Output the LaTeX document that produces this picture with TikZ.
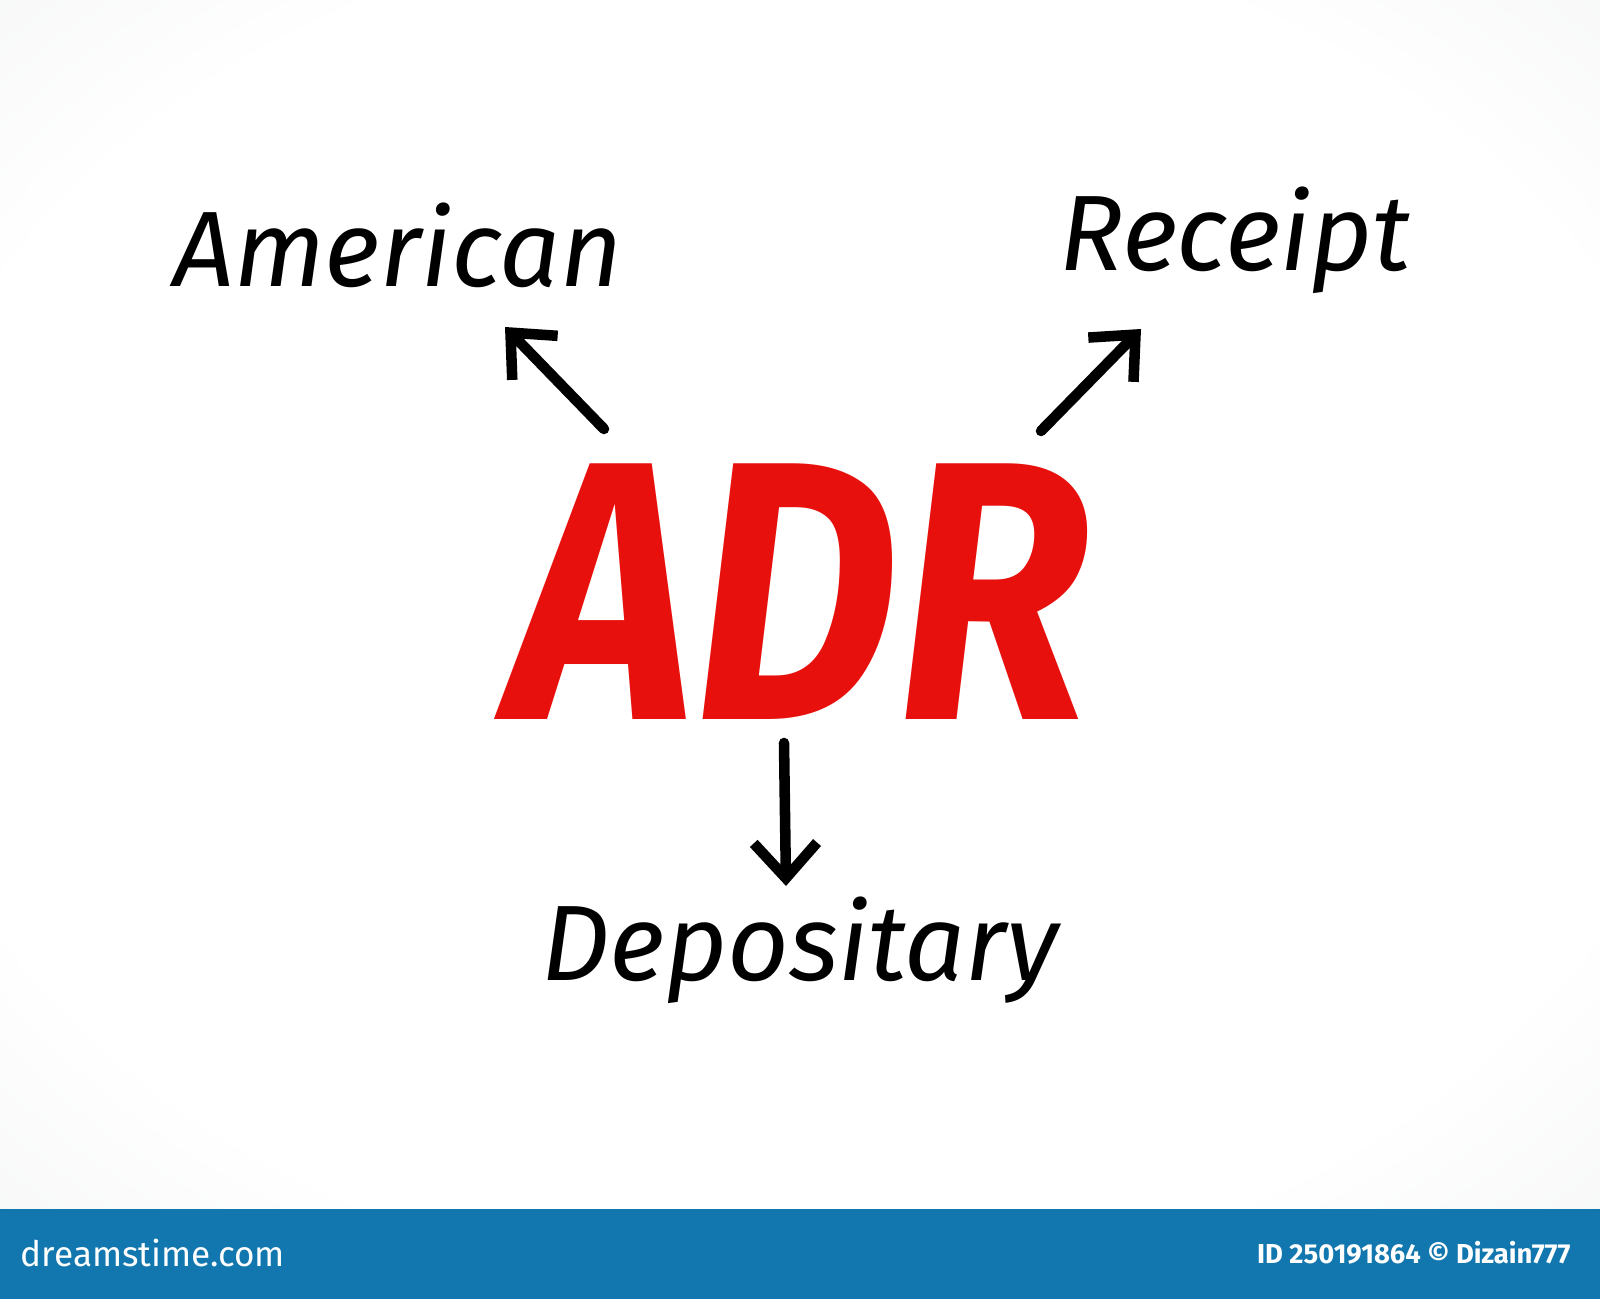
\documentclass[tikz,border=0pt]{standalone}
\usepackage{fontspec}
\setmainfont{Fira Sans}
\usetikzlibrary{arrows.meta}
\definecolor{barblue}{HTML}{1277AE}
\definecolor{adrred}{HTML}{E8100C}
\definecolor{edgegray}{HTML}{ECEDEF}
\pgfdeclareradialshading{bgshade}{\pgfpoint{0bp}{0bp}}{color(0bp)=(white); color(28bp)=(white); color(48bp)=(edgegray); color(100bp)=(edgegray)}
\tikzset{
  word/.style={font=\fontsize{30.5}{33}\selectfont\itshape, text=black, inner sep=0pt},
  pointer/.style={line width=3pt, line cap=round, -{Straight Barb[length=10pt,width=18pt,line width=3pt]}},
}
\begin{document}
\begin{tikzpicture}[x=1cm,y=1cm]
\useasboundingbox (0,0) rectangle (16,12.99);
\shade[shading=bgshade] (0,0.9) rectangle (16,12.99);
\fill[barblue] (0,0) rectangle (16,0.9);
\node[font=\fontsize{100}{100}\selectfont\bfseries\itshape, text=adrred, inner sep=0pt] (adr) at (8.0,7.07) {\scalebox{0.9}[1.05]{ADR}};
\node[word] (american) at (3.98,10.54) {American};
\node[word] (receipt) at (12.35,10.59) {Receipt};
\node[word] (depositary) at (8.0,3.49) {Depositary};
\coordinate (a1) at (6.04,8.70); \coordinate (a2) at (5.05,9.72);
\coordinate (r1) at (10.41,8.68); \coordinate (r2) at (11.41,9.70);
\coordinate (d1) at (7.84,5.56); \coordinate (d2) at (7.86,4.13);
\draw[pointer] (a1) -- (a2);
\draw[pointer] (r1) -- (r2);
\draw[pointer] (d1) -- (d2);
\node[anchor=west, text=white, font=\fontsize{10}{12}\selectfont, inner sep=0pt] (brand) at (0.2,0.46) {dreamstime.com};
\node[anchor=east, text=white, font=\fontsize{7.8}{9}\selectfont\bfseries, inner sep=0pt] (credit) at (15.71,0.46) {ID 250191864 © Dizain777};
\end{tikzpicture}
\end{document}
